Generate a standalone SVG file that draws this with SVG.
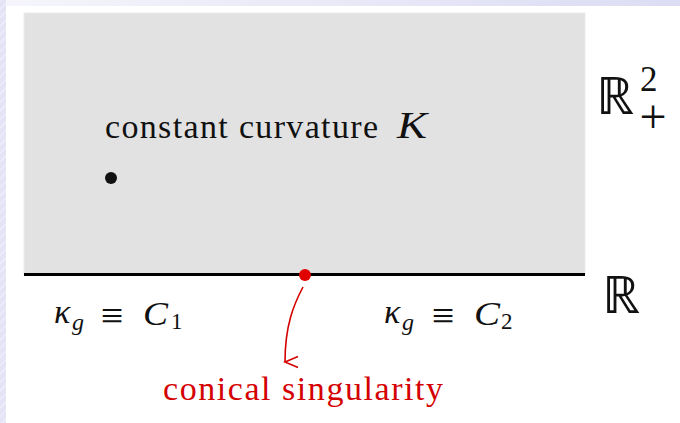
<svg xmlns="http://www.w3.org/2000/svg" width="680" height="423" viewBox="0 0 680 423">
<defs>
<linearGradient id="topg" x1="0" y1="0" x2="1" y2="0">
<stop offset="0" stop-color="#f5f5fb"/>
<stop offset="1" stop-color="#dcdcf4"/>
</linearGradient>
<pattern id="hatch" width="6" height="6" patternUnits="userSpaceOnUse" patternTransform="rotate(45)">
<rect width="6" height="6" fill="#e4e4f6"/>
<line x1="0" y1="0" x2="0" y2="6" stroke="#f1f1fa" stroke-width="2"/>
</pattern>
<marker id="ah" markerWidth="14" markerHeight="16" refX="6" refY="14" orient="auto" markerUnits="userSpaceOnUse" viewBox="0 0 12 16">
<path d="M0.5,1 L6,14 L11.5,1" fill="none" stroke="#d40000" stroke-width="1.6"/>
</marker>
<style>
.serif{font-family:"Liberation Serif",serif;}
.math{font-family:"Liberation Serif",serif;font-style:italic;}
</style>
</defs>
<rect width="680" height="423" fill="#ffffff"/>
<rect x="0" y="0" width="680" height="6" fill="url(#topg)"/>
<rect x="0" y="0" width="6" height="423" fill="url(#hatch)"/>
<g id="halfplane">
<rect x="24" y="13" width="561" height="261" fill="#e2e2e2" stroke="#ebebeb" stroke-width="1"/>
<line x1="24" y1="274.5" x2="585" y2="274.5" stroke="#000" stroke-width="3"/>
</g>
<g id="label-curvature">
<text x="105" y="138" class="serif" font-size="34" fill="#111" textLength="273" lengthAdjust="spacing">constant curvature</text>
<text x="397" y="138" class="math" font-size="38" fill="#111" textLength="30" lengthAdjust="spacingAndGlyphs">K</text>
</g>
<g id="point">
<circle cx="111" cy="178" r="6" fill="#111"/>
</g>
<g id="R2plus">
<text x="596" y="114" class="serif" font-size="52" fill="#111" textLength="38" lengthAdjust="spacingAndGlyphs">ℝ</text>
<text x="640" y="91" class="serif" font-size="35" fill="#111">2</text>
<text x="653" y="133" class="serif" font-size="48" fill="#111" text-anchor="middle">+</text>
</g>
<g id="R">
<text x="602" y="313" class="serif" font-size="52" fill="#111" textLength="38" lengthAdjust="spacingAndGlyphs">ℝ</text>
</g>
<g id="C1">
<text x="54" y="323" class="math" font-size="34" fill="#111">κ</text>
<text x="72" y="330" class="math" font-size="24" fill="#111">g</text>
<text x="112" y="329" class="serif" font-size="40" fill="#111" text-anchor="middle">≡</text>
<text x="143" y="325" class="math" font-size="33" fill="#111" textLength="25" lengthAdjust="spacingAndGlyphs">C</text>
<text x="171" y="329" class="serif" font-size="23" fill="#111">1</text>
</g>
<g id="C2">
<text x="384" y="323" class="math" font-size="34" fill="#111">κ</text>
<text x="402" y="330" class="math" font-size="24" fill="#111">g</text>
<text x="443" y="329" class="serif" font-size="40" fill="#111" text-anchor="middle">≡</text>
<text x="474" y="325" class="math" font-size="33" fill="#111" textLength="26" lengthAdjust="spacingAndGlyphs">C</text>
<text x="501" y="329" class="serif" font-size="23" fill="#111">2</text>
</g>
<g id="singular-point">
<circle cx="305" cy="275" r="6" fill="#e00000"/>
</g>
<g id="connectors">
<path d="M303,287 C294,304 285,325 285,362" fill="none" stroke="#d40000" stroke-width="1.6" marker-end="url(#ah)"/>
</g>
<g id="label-conical">
<text x="163" y="400" class="serif" font-size="34" fill="#d40000" textLength="280" lengthAdjust="spacing">conical singularity</text>
</g>
</svg>
